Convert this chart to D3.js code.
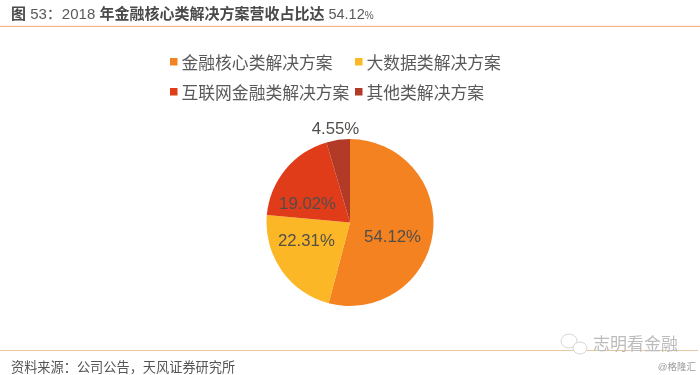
<!DOCTYPE html>
<html>
<head>
<meta charset="utf-8">
<script src="https://cdn.jsdelivr.net/npm/d3@7"></script>
<style>
  html, body { margin: 0; padding: 0; background: #fff; }
  svg { filter: blur(0.35px); }
  text { font-family: "Liberation Sans", "Noto Sans CJK SC", sans-serif; }
</style>
</head>
<body>
<div id="vis"></div>
<script>
const categories = ['金融核心类解决方案', '大数据类解决方案', '互联网金融类解决方案', '其他类解决方案'];
const shares = [54.12, 22.31, 19.02, 4.55];
const sliceColors = ['#f58220', '#fbb726', '#e03c1a', '#b23a26'];
// label shift from the slice centroid, labels were hand placed in the original
const labelNudge = [[-3, 8], [-6, -9], [-7, 10], [-8, -49]];

const width = 700;
const height = 375;
const cx = 350;
const cy = 222.5;
const radius = 83.5;

const svg = d3.select('#vis').append('svg')
  .attr('width', width)
  .attr('height', height)
  .style('display', 'block');

// header
const title = svg.append('text')
  .attr('x', 11).attr('y', 18.5)
  .attr('font-size', 15)
  .attr('fill', '#4a4a4a');

title.append('tspan').attr('font-weight', 700).text('图');
title.append('tspan').attr('fill', '#5a5a5a').text(' 53：2018 ');
title.append('tspan').attr('font-weight', 700).text('年金融核心类解决方案营收占比达');
title.append('tspan').attr('fill', '#5a5a5a').attr('font-size', 14.5).text(' 54.12');
title.append('tspan').attr('fill', '#5a5a5a').attr('font-size', 10).text('%');

svg.append('line')
  .attr('x1', 0).attr('x2', 700).attr('y1', 26.3).attr('y2', 26.3)
  .attr('stroke', '#f5b78a').attr('stroke-width', 1.2);

// legend
const legendX = d3.scaleOrdinal().domain([0, 1]).range([170, 355]);
const legendY = d3.scaleOrdinal().domain([0, 1]).range([62, 92]);

const legend = svg.selectAll('g.legend')
  .data(categories)
  .enter()
  .append('g')
  .attr('class', 'legend')
  .attr('transform', (d, i) => 'translate(' + legendX(i % 2) + ',' + legendY(Math.floor(i / 2)) + ')');

legend.append('rect')
  .attr('x', 0).attr('y', -4)
  .attr('width', 7.5).attr('height', 7.5)
  .attr('fill', (d, i) => sliceColors[i]);

legend.append('text')
  .attr('x', 11.5).attr('y', 7)
  .attr('font-size', 16.8)
  .attr('fill', '#595959')
  .text(d => d);

// pie
const pie = d3.pie().sort(null)(shares);
const arc = d3.arc().innerRadius(0).outerRadius(radius);
const labelArc = d3.arc().innerRadius(radius * 0.55).outerRadius(radius * 0.55);

const pieG = svg.append('g')
  .attr('transform', 'translate(' + cx + ',' + cy + ')');

pieG.selectAll('path')
  .data(pie)
  .enter()
  .append('path')
  .attr('d', arc)
  .attr('fill', (d, i) => sliceColors[i]);

pieG.selectAll('text')
  .data(pie)
  .enter()
  .append('text')
  .attr('x', (d, i) => labelArc.centroid(d)[0] + labelNudge[i][0])
  .attr('y', (d, i) => labelArc.centroid(d)[1] + labelNudge[i][1])
  .attr('dy', '0.35em')
  .attr('text-anchor', 'middle')
  .attr('font-size', 16.8)
  .attr('fill', '#524e4a')
  .text(d => d3.format('.2f')(d.value) + '%');

// footer
svg.append('line')
  .attr('x1', 0).attr('x2', 698).attr('y1', 350.5).attr('y2', 350.5)
  .attr('stroke', '#e9c79e').attr('stroke-width', 1.2);

svg.append('text')
  .attr('x', 11).attr('y', 371.5)
  .attr('font-size', 13.2)
  .attr('fill', '#555')
  .text('资料来源：公司公告，天风证券研究所');

// watermark sits on top of the rule
svg.append('text')
  .attr('x', 593).attr('y', 350)
  .attr('font-size', 17)
  .attr('fill', '#bcbcbc')
  .text('志明看金融');

svg.append('text')
  .attr('x', 696).attr('y', 369.5)
  .attr('text-anchor', 'end')
  .attr('font-size', 9.5)
  .attr('fill', '#999')
  .text('@格隆汇');

const wm = svg.append('g')
  .attr('fill', '#fff').attr('stroke', '#d6d6d6').attr('stroke-width', 1);
wm.append('ellipse').attr('cx', 569).attr('cy', 341).attr('rx', 8).attr('ry', 7);
wm.append('ellipse').attr('cx', 580).attr('cy', 348).attr('rx', 7).attr('ry', 6);
</script>
</body>
</html>
